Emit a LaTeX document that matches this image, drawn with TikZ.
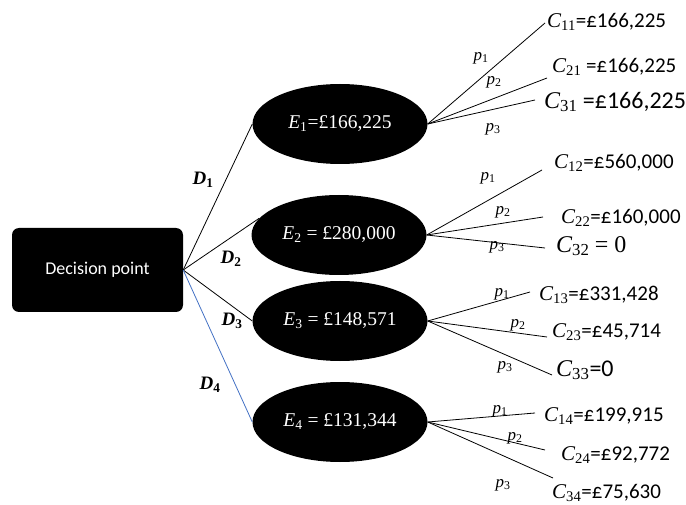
\documentclass[tikz,border=0pt]{standalone}
\usepackage{fix-cm}
\usepackage{fontspec}
\setmainfont{Carlito}
\newfontfamily\serifE{Liberation Serif}
\usetikzlibrary{shapes.geometric}
\definecolor{dblue}{RGB}{68,114,196}
\newcommand\vC[1]{{\serifE\itshape C}\textsubscript{\serifE #1}}
\newcommand\vE[1]{{\serifE\itshape E}\textsubscript{\serifE #1}}
\newcommand\vp[1]{{\serifE\itshape p}\textsubscript{\serifE #1}}
\newcommand\vD[1]{{\serifE\bfseries\itshape D}\textsubscript{\serifE\bfseries #1}}
\begin{document}
\begin{tikzpicture}[x=1pt,y=-1pt,
 evnode/.style={ellipse, fill=black, text=white, minimum width=175pt, minimum height=80pt, inner sep=0pt, font=\serifE\fontsize{19.5}{21}\selectfont},
 dbox/.style={rectangle, rounded corners=7pt, fill=black, text=white, minimum width=171pt, minimum height=84pt, inner sep=0pt, font=\fontsize{18}{20}\selectfont},
 conn/.style={line width=0.8pt},
 clab/.style={anchor=west, inner sep=0pt, font=\fontsize{21}{23}\selectfont},
 clabbig/.style={anchor=west, inner sep=0pt, font=\fontsize{24}{26}\selectfont},
 plab/.style={inner sep=0pt, font=\fontsize{17}{19}\selectfont},
 dlab/.style={inner sep=0pt, font=\fontsize{19}{21}\selectfont}]
\useasboundingbox (0,0) rectangle (686,505);

\node[dbox] (dp) at (97.5,270) {Decision point};

\node[evnode] (E1) at (340,124) {\vE{1}=£166,225};
\node[evnode] (E2) at (339,235) {\vE{2} = £280,000};
\node[evnode] (E3) at (340,321) {\vE{3} = £148,571};
\node[evnode] (E4) at (340,422) {\vE{4} = £131,344};

\draw[conn] (dp.east) -- (E1.west);
\draw[conn] (dp.east) -- (E2.168);
\draw[conn] (dp.east) -- (E3.west);
\draw[conn, dblue] (dp.east) -- (E4.west);

\node[dlab] (d1) at (203,180) {\vD{1}};
\node[dlab] (d2) at (231,259) {\vD{2}};
\node[dlab] (d3) at (232,321) {\vD{3}};
\node[dlab] (d4) at (210,385) {\vD{4}};

% end points
\coordinate (a11) at (545,23);
\coordinate (a21) at (547,78);
\coordinate (a31) at (535,100);
\coordinate (a12) at (542,170);
\coordinate (a22) at (543,217);
\coordinate (a32) at (545,248);
\coordinate (a13) at (530,292);
\coordinate (a23) at (547,337);
\coordinate (a33) at (552,375);
\coordinate (a14) at (535,413);
\coordinate (a24) at (545,450);
\coordinate (a34) at (553,478);

\foreach \e/\i in {1/1,1/2,1/3,2/1,2/2,2/3,3/1,3/2,3/3,4/1,4/2,4/3}{
  \draw[conn] (E\e.east) -- (a\i\e);
}

% outcome labels
\node[clab] (c11) at (547,22) {\vC{11}=£166,225};
\node[clab] (c21) at (552,67) {\vC{21} =£166,225};
\node[clabbig] (c31) at (544,102) {\vC{31} =£166,225};
\node[clab] (c12) at (554,163) {\vC{12}=£560,000};
\node[clab] (c22) at (561,218) {\vC{22}=£160,000};
\node[clabbig] (c32) at (556,246) {\vC{32} {\serifE = 0}};
\node[clab] (c13) at (539,295) {\vC{13}=£331,428};
\node[clab] (c23) at (552,332) {\vC{23}=£45,714};
\node[clabbig] (c33) at (556,370) {\vC{33}=0};
\node[clab] (c14) at (544,416) {\vC{14}=£199,915};
\node[clab] (c24) at (561,455) {\vC{24}=£92,772};
\node[clab] (c34) at (552,493) {\vC{34}=£75,630};

% probability labels
\node[plab] (p11) at (481,58) {\vp{1}};
\node[plab] (p21) at (494,82) {\vp{2}};
\node[plab] (p31) at (493,129) {\vp{3}};
\node[plab] (p12) at (488,178) {\vp{1}};
\node[plab] (p22) at (503,212) {\vp{2}};
\node[plab] (p32) at (497,247) {\vp{3}};
\node[plab] (p13) at (502,294) {\vp{1}};
\node[plab] (p23) at (518,325) {\vp{2}};
\node[plab] (p33) at (505,367) {\vp{3}};
\node[plab] (p14) at (500,411) {\vp{1}};
\node[plab] (p24) at (515,438) {\vp{2}};
\node[plab] (p34) at (503,485) {\vp{3}};
\end{tikzpicture}
\end{document}
